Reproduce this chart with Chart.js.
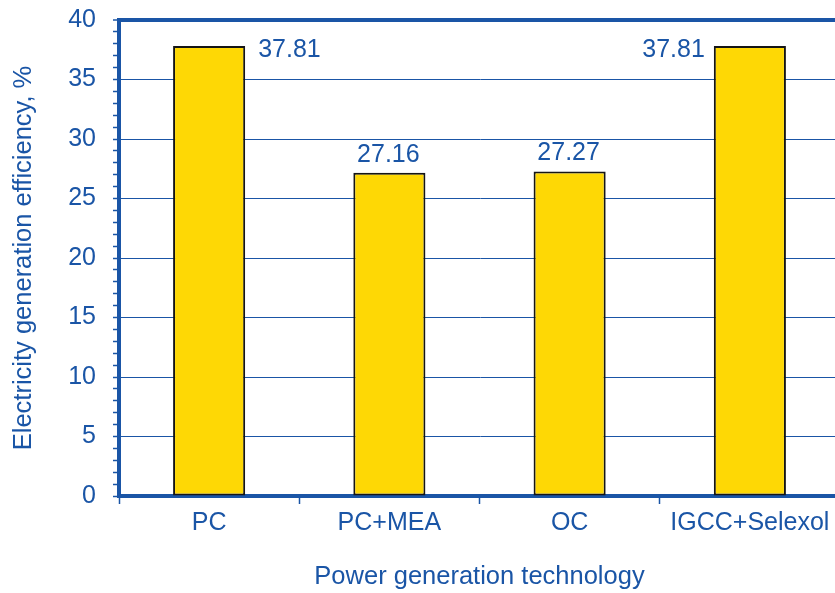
<!DOCTYPE html>
<html>
<head>
<meta charset="utf-8">
<script src="https://cdn.jsdelivr.net/npm/chart.js@4/dist/chart.umd.min.js"></script>
<style>
  html, body { margin: 0; padding: 0; background: #ffffff; overflow: hidden; }
  #wrap { width: 840px; height: 593px; position: relative; }
</style>
</head>
<body>
<div id="wrap"><canvas id="chart"></canvas></div>
<script>
// Categories and efficiency values (%)
const technologies = ['PC', 'PC+MEA', 'OC', 'IGCC+Selexol'];
const efficiency = [37.81, 27.16, 27.27, 37.81];
// Where each value label sits relative to its bar
const labelSide = ['right', 'top', 'top', 'left'];

const BLUE = '#1a55a6';
const FONT = '"Liberation Sans", Arial, Helvetica, sans-serif';

const valueLabels = {
  id: 'valueLabels',
  afterDatasetsDraw(chart) {
    const ctx = chart.ctx;
    const meta = chart.getDatasetMeta(0);
    ctx.save();
    ctx.font = '25px ' + FONT;
    ctx.fillStyle = BLUE;
    ctx.textBaseline = 'middle';
    meta.data.forEach((bar, i) => {
      const text = efficiency[i].toFixed(2);
      const half = bar.width / 2;
      const side = labelSide[i];
      if (side === 'right') {
        ctx.textAlign = 'left';
        ctx.fillText(text, bar.x + half + 13, bar.y + 4.5);
      } else if (side === 'left') {
        ctx.textAlign = 'right';
        ctx.fillText(text, bar.x - half - 9, bar.y + 4.5);
      } else {
        ctx.textAlign = 'center';
        ctx.fillText(text, bar.x - 1, bar.y - 18);
      }
    });
    ctx.restore();
  }
};

new Chart(document.getElementById('chart'), {
  type: 'bar',
  data: {
    labels: technologies,
    datasets: [{
      data: efficiency,
      backgroundColor: '#fed805',
      borderColor: '#151515',
      borderWidth: 2,
      borderSkipped: false,
      barPercentage: 0.4,
      categoryPercentage: 1.0
    }]
  },
  options: {
    responsive: true,
    maintainAspectRatio: false,
    animation: false,
    layout: { padding: { top: 20, right: 0, left: 0, bottom: 0 } },
    plugins: {
      legend: { display: false },
      tooltip: { enabled: false }
    },
    scales: {
      x: {
        offset: true,
        grid: {
          offset: true,
          drawOnChartArea: false,
          drawTicks: true,
          tickLength: 8,
          tickColor: BLUE,
          tickWidth: 1.5
        },
        border: { display: true, color: BLUE, width: 4 },
        ticks: {
          color: BLUE,
          font: { family: FONT, size: 25 },
          padding: 4,
          maxRotation: 0
        },
        title: {
          display: true,
          text: 'Power generation technology',
          color: BLUE,
          font: { family: FONT, size: 25.5 },
          padding: { top: 0, bottom: 1 }
        },
        afterFit(scale) {
          scale.height = 97;
          scale.paddingLeft = 0;
          scale.paddingRight = 0;
        }
      },
      y: {
        min: 0,
        max: 40,
        grid: {
          color: (c) => (c.tick && c.tick.value % 5 === 0 && c.tick.value > 0) ? BLUE : 'rgba(0,0,0,0)',
          lineWidth: (c) => (c.tick && c.tick.value === 40) ? 4 : 1,
          drawTicks: true,
          tickLength: 6,
          tickColor: BLUE,
          tickWidth: 1.5
        },
        border: { display: true, color: BLUE, width: 4 },
        ticks: {
          stepSize: 1,
          autoSkip: false,
          color: BLUE,
          font: { family: FONT, size: 25 },
          padding: 17,
          callback: (v) => (v % 5 === 0 ? String(v) : '')
        },
        title: {
          display: true,
          text: 'Electricity generation efficiency, %',
          color: BLUE,
          font: { family: FONT, size: 25.5 },
          padding: { top: 9, bottom: 0 }
        },
        afterFit(scale) {
          scale.width = 119;
          scale.paddingTop = 0;
          scale.paddingBottom = 0;
        }
      }
    }
  },
  plugins: [valueLabels]
});
</script>
</body>
</html>
